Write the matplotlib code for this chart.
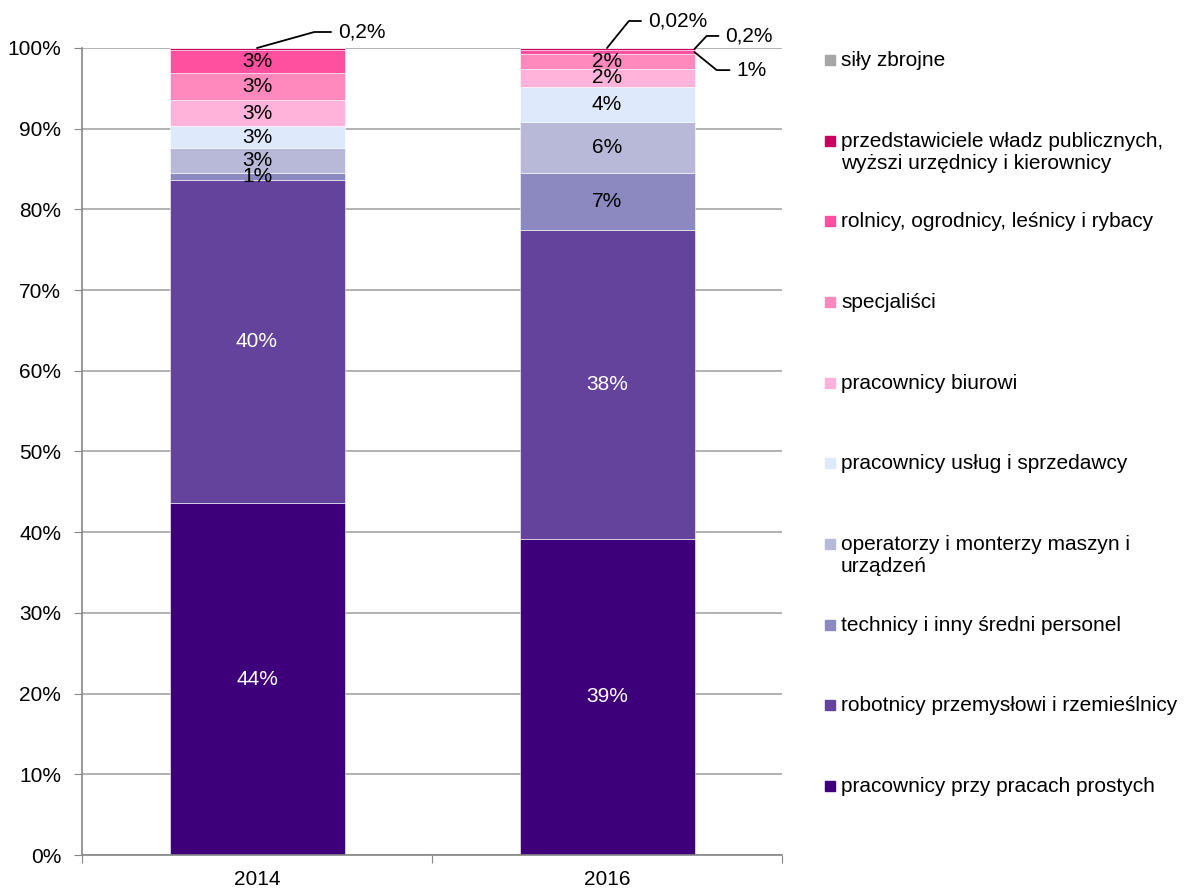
import numpy as np
import matplotlib
matplotlib.use("Agg")
import matplotlib.pyplot as plt
from matplotlib.patches import Rectangle

plt.rcParams['font.family'] = ['Liberation Sans', 'DejaVu Sans']

years = ['2014', '2016']

# occupational groups, bottom of the stack first
groups = [
    'pracownicy przy pracach prostych',
    'robotnicy przemysłowi i rzemieślnicy',
    'technicy i inny średni personel',
    'operatorzy i monterzy maszyn i\nurządzeń',
    'pracownicy usług i sprzedawcy',
    'pracownicy biurowi',
    'specjaliści',
    'rolnicy, ogrodnicy, leśnicy i rybacy',
    'przedstawiciele władz publicznych,\nwyższi urzędnicy i kierownicy',
    'siły zbrojne',
]

share_2014 = [43.6, 40.0, 0.9, 3.1, 2.7, 3.2, 3.4, 2.9, 0.2, 0.0]
share_2016 = [39.2, 38.2, 7.1, 6.3, 4.4, 2.2, 1.8, 0.58, 0.2, 0.02]

colors = ['#3d007a', '#63439c', '#8b89bf', '#b8b8d9', '#deeafc',
          '#ffb3da', '#ff88bd', '#ff4f9f', '#c8005f', '#a6a6a6']
dark = {0, 1}
FS = 15
W, H = 1187, 888


def fmt(v):
    if v >= 0.5:
        return f"{v:.0f}%"
    return f"{v:g}".replace('.', ',') + '%'


def main():
    fig = plt.figure(figsize=(W / 100, H / 100), dpi=100)
    ax = fig.add_axes([82 / W, 33 / H, 700 / W, 807 / H])

    data = np.array([share_2014, share_2016])
    x = np.arange(len(years))
    bottom = np.zeros(len(years))
    for i, name in enumerate(groups):
        vals = data[:, i]
        bars = ax.bar(x, vals, 0.5, bottom=bottom, color=colors[i],
                      edgecolor='white', linewidth=0.4, label=name, zorder=2)
        for j, b in enumerate(bars):
            v = vals[j]
            if v >= 0.8:
                ax.text(b.get_x() + b.get_width() / 2, bottom[j] + v / 2, fmt(v),
                        ha='center', va='center', fontsize=FS,
                        color='white' if i in dark else 'black', zorder=3)
        bottom += vals

    # leader-line labels for the thin segments at the top
    line = dict(arrowstyle='-', color='black', lw=1.3, shrinkA=3, shrinkB=0)
    top14 = sum(share_2014)
    top16 = sum(share_2016)
    ax.annotate(fmt(share_2014[8]), xy=(0, top14), xytext=(81, 16),
                textcoords='offset pixels', ha='left', va='center', fontsize=FS,
                arrowprops=dict(line, connectionstyle='angle,angleA=0,angleB=15.6,rad=0'))
    ax.annotate(fmt(share_2016[9]), xy=(1, top16), xytext=(41, 27),
                textcoords='offset pixels', ha='left', va='center', fontsize=FS,
                arrowprops=dict(line, connectionstyle='angle,angleA=0,angleB=51,rad=0'))
    ax.annotate(fmt(share_2016[8]), xy=(1.25, top16 - share_2016[9] - share_2016[8] / 2),
                xytext=(31, 13), textcoords='offset pixels', ha='left', va='center',
                fontsize=FS,
                arrowprops=dict(line, connectionstyle='angle,angleA=0,angleB=47,rad=0'))
    ax.annotate(fmt(share_2016[7]),
                xy=(1.25, top16 - share_2016[9] - share_2016[8] - share_2016[7] / 2),
                xytext=(42, -18), textcoords='offset pixels', ha='left', va='center',
                fontsize=FS,
                arrowprops=dict(line, connectionstyle='angle,angleA=0,angleB=-39,rad=0'))

    ax.set_xlim(-0.5, 1.5)
    ax.set_ylim(0, 100)
    ax.set_yticks(np.arange(0, 101, 10))
    ax.set_yticklabels([f"{t}%" for t in range(0, 101, 10)])
    ax.set_xticks([-0.5, 0.5, 1.5])
    ax.set_xticklabels([])
    ax.set_xticks(x, minor=True)
    ax.set_xticklabels(years, minor=True)
    ax.tick_params(axis='x', which='minor', length=0, pad=11, labelsize=FS)
    ax.tick_params(axis='x', which='major', length=6, color='#868686', direction='out')
    ax.tick_params(axis='y', length=6, color='#868686', direction='out', labelsize=FS, pad=9)

    ax.yaxis.grid(True, color='#a6a6a6', linewidth=1.2, zorder=0)
    ax.set_axisbelow(True)
    for s in ['top', 'right']:
        ax.spines[s].set_visible(False)
    for s in ['left', 'bottom']:
        ax.spines[s].set_color('#868686')
        ax.spines[s].set_linewidth(1.2)

    # legend, top entry first; markers line up with the first text line
    step = (786 - 60) / (len(groups) - 1)
    for k, i in enumerate(range(len(groups) - 1, -1, -1)):
        yc = 60 + k * step
        fig.add_artist(Rectangle((825 / W, 1 - (yc + 5) / H), 10 / W, 10 / H,
                                 transform=fig.transFigure, color=colors[i]))
        fig.text(841 / W, 1 - (yc - 9) / H, groups[i], ha='left', va='top',
                 fontsize=FS, linespacing=1.2)

    fig.savefig('out.png', dpi=100)


if __name__ == "__main__":
    main()
